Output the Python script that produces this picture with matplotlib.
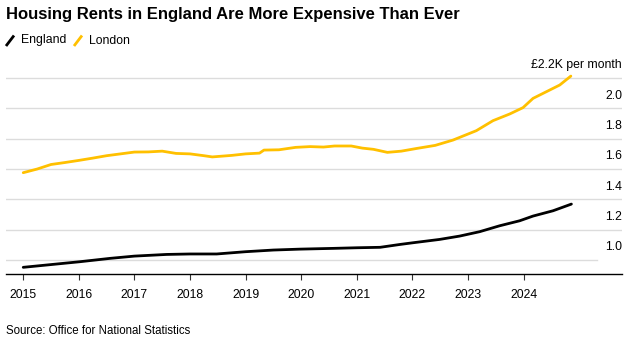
import matplotlib
matplotlib.use('Agg')
import matplotlib.pyplot as plt
from matplotlib.lines import Line2D

plt.rcParams['font.family'] = ['Liberation Sans', 'DejaVu Sans']

# Data (average monthly rent, £ thousands)
london_years = [2015.00, 2015.25, 2015.50, 2015.75, 2016.00, 2016.25, 2016.50, 2016.75,
                2017.00, 2017.25, 2017.50, 2017.75, 2018.00, 2018.25, 2018.40, 2018.75,
                2019.00, 2019.25, 2019.33, 2019.60, 2019.90, 2020.16, 2020.40, 2020.60,
                2020.90, 2021.10, 2021.30, 2021.55, 2021.80, 2022.08, 2022.41, 2022.73,
                2023.15, 2023.45, 2023.75, 2023.99, 2024.17, 2024.41, 2024.65, 2024.85]
london = [1.576, 1.600, 1.630, 1.643, 1.657, 1.672, 1.688, 1.700,
          1.712, 1.713, 1.718, 1.703, 1.700, 1.688, 1.680, 1.690,
          1.700, 1.705, 1.725, 1.727, 1.743, 1.748, 1.745, 1.752,
          1.752, 1.738, 1.730, 1.710, 1.718, 1.736, 1.756, 1.791,
          1.853, 1.919, 1.963, 2.005, 2.066, 2.110, 2.154, 2.213]

england_years = [2015.00, 2016.02, 2016.56, 2017.00, 2017.58, 2018.00, 2018.48, 2019.00,
                 2019.50, 2019.98, 2020.58, 2021.00, 2021.42, 2021.78, 2022.01, 2022.49,
                 2022.85, 2023.21, 2023.57, 2023.93, 2024.17, 2024.53, 2024.86]
england = [0.952, 0.989, 1.011, 1.026, 1.037, 1.040, 1.040, 1.055,
           1.066, 1.072, 1.077, 1.081, 1.084, 1.103, 1.114, 1.136,
           1.158, 1.187, 1.226, 1.259, 1.290, 1.325, 1.369]

tick_years = list(range(2015, 2025))
ytick_vals = [1.0, 1.2, 1.4, 1.6, 1.8, 2.0, 2.2]
ytick_labels = ['1.0', '1.2', '1.4', '1.6', '1.8', '2.0', '£2.2K per month']

title = 'Housing Rents in England Are More Expensive Than Ever'
source = 'Source: Office for National Statistics'
series_names = ['England', 'London']
colors = ['#000000', '#FFC000']

W, H = 629, 344
fig = plt.figure(figsize=(W / 100, H / 100), dpi=100)
ax = fig.add_axes([6 / W, 70 / H, 616 / W, 214 / H])
ax.set_xlim(2014.69, 2025.77)
ax.set_ylim(0.908, 2.319)

for v, lab in zip(ytick_vals, ytick_labels):
    xmax = (597 - 6) / 616 if v == 1.0 else 1.0
    ax.axhline(v, xmin=0, xmax=xmax, color='#dcdcdc', lw=1.0, zorder=0)
    ax.annotate(lab, xy=(1, v), xycoords=('axes fraction', 'data'),
                xytext=(0, 9.2), textcoords='offset points',
                ha='right', va='center', fontsize=8.8, color='#000000')

ax.plot(england_years, england, color=colors[0], lw=2.0, solid_capstyle='round', zorder=3)
ax.plot(london_years, london, color=colors[1], lw=2.0, solid_capstyle='round', zorder=3)

for s in ['top', 'left', 'right']:
    ax.spines[s].set_visible(False)
ax.spines['bottom'].set_color('#000000')
ax.spines['bottom'].set_linewidth(1.0)
ax.set_yticks([])
ax.set_xticks(tick_years)
ax.set_xticklabels([str(y) for y in tick_years])
ax.tick_params(axis='x', length=4.3, width=0.8, color='#333333', pad=6.3, labelsize=8.8)

# Title, sized so its width matches the reference (~454 px)
t = fig.text(6 / W, 1 - 15 / H, title, fontsize=12.8, fontweight='bold', va='center', ha='left')
fig.canvas.draw()
w = t.get_window_extent(renderer=fig.canvas.get_renderer()).width
t.set_fontsize(12.8 * 454 / w)

# Legend (slash markers)
leg_y = 1 - 40.5 / H
for x0, name, col, tx in [(6, series_names[0], colors[0], 20.5), (74, series_names[1], colors[1], 89)]:
    fig.add_artist(Line2D([x0 / W, (x0 + 8) / W], [1 - 46 / H, 1 - 35.5 / H],
                          color=col, lw=2.0, solid_capstyle='butt'))
    fig.text(tx / W, leg_y, name, fontsize=8.8, va='center', ha='left')

# Source
fig.text(6 / W, 1 - 330.5 / H, source, fontsize=8.3, va='center', ha='left')

fig.savefig('out.png', dpi=100)
